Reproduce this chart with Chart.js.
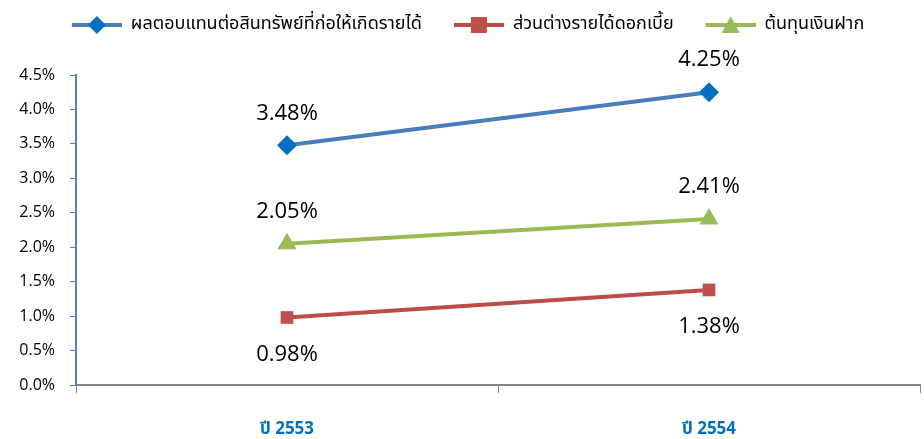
<!DOCTYPE html>
<html>
<head>
<meta charset="utf-8">
<script src="https://cdn.jsdelivr.net/npm/chart.js@4.4.0/dist/chart.umd.min.js"></script>
<style>
  html, body { margin: 0; padding: 0; background: #fff; }
  #wrap { width: 924px; height: 439px; }
</style>
</head>
<body>
<div id="wrap"><canvas id="chart" width="924" height="439"></canvas></div>
<script>
// data (percent)
const years = ["ปี 2553", "ปี 2554"];
const seriesNames = [
    "ผลตอบแทนต่อสินทรัพย์ที่ก่อให้เกิดรายได้",
    "ส่วนต่างรายได้ดอกเบี้ย",
    "ต้นทุนเงินฝาก"
];
const yieldOnAssets = [3.48, 4.25];
const interestSpread = [0.98, 1.38];
const depositCost = [2.05, 2.41];
const yMax = 4.5;
const yStep = 0.5;

const thaiFont = '"Noto Sans Thai", "Noto Sans", "DejaVu Sans", sans-serif';
const numFont = '"Open Sans", "Noto Sans", sans-serif';

// small picture for the legend: blank gap, then line with marker in the middle
function legendIcon(lineColor, markerColor, shape) {
    const gap = 16;
    const c = document.createElement("canvas");
    c.width = 50 + gap;
    c.height = 20;
    const ctx = c.getContext("2d");
    ctx.strokeStyle = lineColor;
    ctx.lineWidth = 4;
    ctx.beginPath();
    ctx.moveTo(gap, 10);
    ctx.lineTo(gap + 50, 10);
    ctx.stroke();
    ctx.fillStyle = markerColor;
    ctx.beginPath();
    const m = gap + 25;
    if (shape === "diamond") {
        ctx.moveTo(m, 1); ctx.lineTo(m + 9, 10); ctx.lineTo(m, 19); ctx.lineTo(m - 9, 10);
    } else if (shape === "square") {
        ctx.rect(m - 8, 2, 16, 16);
    } else {
        ctx.moveTo(m, 1); ctx.lineTo(m + 9, 18); ctx.lineTo(m - 9, 18);
    }
    ctx.closePath();
    ctx.fill();
    return c;
}

const icons = [
    legendIcon("#4a7ebb", "#0070c0", "diamond"),
    legendIcon("#be4b48", "#c0504d", "square"),
    legendIcon("#98b954", "#9bbb59", "triangle")
];

// value labels above / below each point
const valueLabels = {
    id: "valueLabels",
    afterDatasetsDraw(chart) {
        const ctx = chart.ctx;
        ctx.save();
        ctx.font = "22px " + numFont;
        ctx.fillStyle = "#000";
        ctx.textAlign = "center";
        ctx.textBaseline = "middle";
        chart.data.datasets.forEach((ds, i) => {
            const meta = chart.getDatasetMeta(i);
            meta.data.forEach((pt, j) => {
                const dy = ds.labelBelow ? 37 : -32;
                ctx.fillText(ds.data[j].toFixed(2) + "%", pt.x, pt.y + dy);
            });
        });
        ctx.restore();
    }
};

// fixed legend height so the plot starts where the reference does
const legendHeight = {
    id: "legendHeight",
    beforeInit(chart) {
        const fit = chart.legend.fit;
        chart.legend.fit = function () {
            fit.bind(chart.legend)();
            this.height = 75;
        };
    }
};

new Chart(document.getElementById("chart"), {
    type: "line",
    data: {
        labels: years,
        datasets: [
            {
                label: seriesNames[0],
                data: yieldOnAssets,
                borderColor: "#4a7ebb",
                backgroundColor: "#0070c0",
                borderWidth: 4,
                pointStyle: "rectRot",
                pointRadius: 10,
                pointHoverRadius: 10,
                pointBorderWidth: 0
            },
            {
                label: seriesNames[1],
                data: interestSpread,
                borderColor: "#be4b48",
                backgroundColor: "#c0504d",
                borderWidth: 4,
                pointStyle: "rect",
                pointRadius: 9,
                pointHoverRadius: 9,
                pointBorderWidth: 0,
                labelBelow: true
            },
            {
                label: seriesNames[2],
                data: depositCost,
                borderColor: "#98b954",
                backgroundColor: "#9bbb59",
                borderWidth: 4,
                pointStyle: "triangle",
                pointRadius: 11,
                pointHoverRadius: 11,
                pointBorderWidth: 0
            }
        ]
    },
    options: {
        responsive: false,
        animation: false,
        layout: { autoPadding: false, padding: { top: 0, right: 4, bottom: 0, left: 0 } },
        plugins: {
            legend: {
                position: "top",
                labels: {
                    usePointStyle: true,
                    pointStyleWidth: 66,
                    padding: 16,
                    color: "#000",
                    font: { family: thaiFont, size: 18 },
                    generateLabels: chart => chart.data.datasets.map((ds, i) => ({
                        text: ds.label,
                        pointStyle: icons[i],
                        fillStyle: ds.backgroundColor,
                        strokeStyle: ds.borderColor,
                        lineWidth: 0,
                        fontColor: "#000",
                        datasetIndex: i
                    }))
                }
            },
            tooltip: { enabled: false }
        },
        scales: {
            x: {
                offset: true,
                grid: {
                    offset: true,
                    drawOnChartArea: false,
                    drawTicks: true,
                    tickLength: 8,
                    color: "#868686",
                    lineWidth: 1
                },
                border: { color: "#868686", width: 2 },
                ticks: {
                    color: "#0070c0",
                    padding: 27,
                    font: { family: thaiFont, size: 17, weight: "bold" }
                },
                afterFit: scale => { scale.height = 54; }
            },
            y: {
                min: 0,
                max: yMax,
                grid: {
                    drawOnChartArea: false,
                    drawTicks: true,
                    tickLength: 6,
                    color: "#4f81bd"
                },
                border: { color: "#4f81bd", width: 2 },
                ticks: {
                    stepSize: yStep,
                    padding: 15,
                    color: "#000",
                    font: { family: numFont, size: 16 },
                    callback: v => v.toFixed(1) + "%"
                },
                afterFit: scale => { scale.width = 76; }
            }
        }
    },
    plugins: [valueLabels, legendHeight]
});
</script>
</body>
</html>
